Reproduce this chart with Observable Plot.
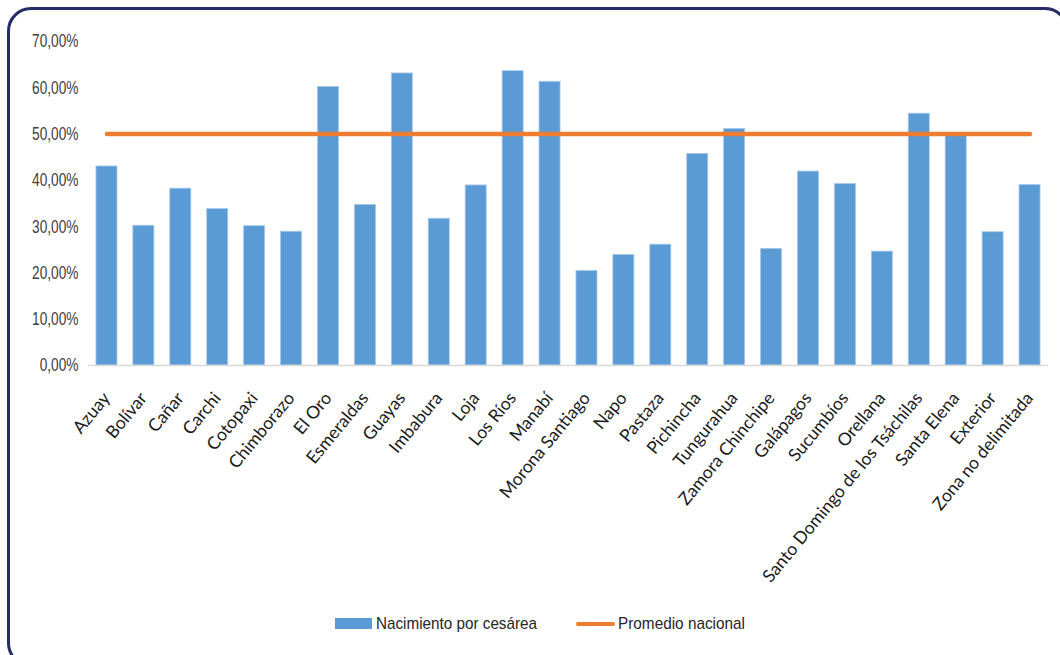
<!DOCTYPE html>
<html>
<head>
<meta charset="utf-8">
<script src="https://cdn.jsdelivr.net/npm/d3@7"></script>
<script src="https://cdn.jsdelivr.net/npm/@observablehq/plot@0.6"></script>
<style>
  html, body { margin: 0; padding: 0; background: #fff; }
  #wrap { position: relative; width: 1060px; height: 655px; overflow: hidden; background: #fff; }
  #frame { position: absolute; left: 7px; top: 7px; width: 1062px; height: 660px; box-sizing: border-box;
           border: 3.5px solid #262d66; border-radius: 24px; }
  #chart { position: absolute; left: 0; top: 0; }
  #legend { position: absolute; top: 612px; left: 0; width: 1060px; height: 24px;
            font-family: "Liberation Sans", Arial, sans-serif;
            font-size: 17px; color: #262626; }
  .lg { position: absolute; top: 0; height: 24px; white-space: nowrap; }
  .sw-bar { position: absolute; left: 0; top: 6px; width: 37px; height: 11px; background: #5b9bd5; }
  .sw-line { position: absolute; left: 0; top: 9.5px; width: 39px; height: 4px; background: #ed7d31; border-radius: 2px; }
  .lt { position: absolute; top: 2px; transform-origin: 0 50%; display: inline-block; }
</style>
</head>
<body>
<div id="wrap">
  <div id="frame"></div>
  <div id="chart"></div>
  <div id="legend">
    <div class="lg" style="left:335px"><div class="sw-bar"></div><span class="lt" id="lg1" style="left:41px"></span></div>
    <div class="lg" style="left:576px"><div class="sw-line"></div><span class="lt" id="lg2" style="left:42px"></span></div>
  </div>
</div>
<script>
const provincias = ["Azuay","Bolívar","Cañar","Carchi","Cotopaxi","Chimborazo","El Oro","Esmeraldas","Guayas","Imbabura","Loja","Los Ríos","Manabí","Morona Santiago","Napo","Pastaza","Pichincha","Tungurahua","Zamora Chinchipe","Galápagos","Sucumbíos","Orellana","Santo Domingo de los Tsáchilas","Santa Elena","Exterior","Zona no delimitada"];
const cesarea = [43.0, 30.2, 38.2, 33.8, 30.1, 28.9, 60.2, 34.7, 63.1, 31.7, 38.9, 63.6, 61.3, 20.4, 23.9, 26.1, 45.7, 51.1, 25.2, 41.9, 39.2, 24.6, 54.4, 49.8, 28.8, 39.0];
const promedioNacional = 50.0;
const yTicks = [0, 10, 20, 30, 40, 50, 60, 70];
const serieNombres = ["Nacimiento por cesárea", "Promedio nacional"];

const data = provincias.map((p, i) => ({provincia: p, valor: cesarea[i]}));
const fmt = d => d.toFixed(2).replace(".", ",") + "%";

const chart = Plot.plot({
  width: 1060,
  height: 600,
  marginLeft: 88,
  marginRight: 12,
  marginTop: 41,
  marginBottom: 235,
  style: {background: "transparent", overflow: "visible"},
  x: {domain: provincias, paddingInner: 0.43, paddingOuter: 0.215, round: false, label: null, axis: null},
  y: {domain: [0, 70], label: null},
  marks: [
    Plot.barY(data, {x: "provincia", y: "valor", fill: "#5b9bd5", stroke: "#a9c9ea", strokeWidth: 0.8}),
    Plot.ruleY([0], {stroke: "#d9d9d9", strokeWidth: 1.3}),
    Plot.line(provincias, {x: d => d, y: () => promedioNacional, stroke: "#ed7d31", strokeWidth: 4.4, strokeLinecap: "round"}),
    Plot.axisY({ticks: yTicks, tickFormat: fmt, tickSize: 0, tickPadding: 10, label: null,
      fontSize: 18.5, fill: "#404040", className: "yax",
      fontFamily: "Liberation Sans, Arial, sans-serif"}),
    Plot.text(provincias, {x: d => d, y: () => 0, text: d => d, rotate: -50.5, textAnchor: "end",
      lineAnchor: "bottom", dx: 4, dy: 33, fontSize: 17.5, fill: "#1a1a1a",
      fontFamily: "Lato, Open Sans, sans-serif", className: "xlab"})
  ]
});
document.getElementById("chart").appendChild(chart);

// condense y-axis labels (narrow face look)
d3.select(chart).selectAll(".yax text").each(function() {
  const w = this.getComputedTextLength();
  this.setAttribute("textLength", (w * 0.74).toFixed(1));
  this.setAttribute("lengthAdjust", "spacingAndGlyphs");
});

document.getElementById("lg1").textContent = serieNombres[0];
document.getElementById("lg2").textContent = serieNombres[1];
[["lg1", 161], ["lg2", 127]].forEach(([id, target]) => {
  const el = document.getElementById(id);
  const w = el.getBoundingClientRect().width;
  el.style.transform = `scaleX(${target / w})`;
});
</script>
</body>
</html>
